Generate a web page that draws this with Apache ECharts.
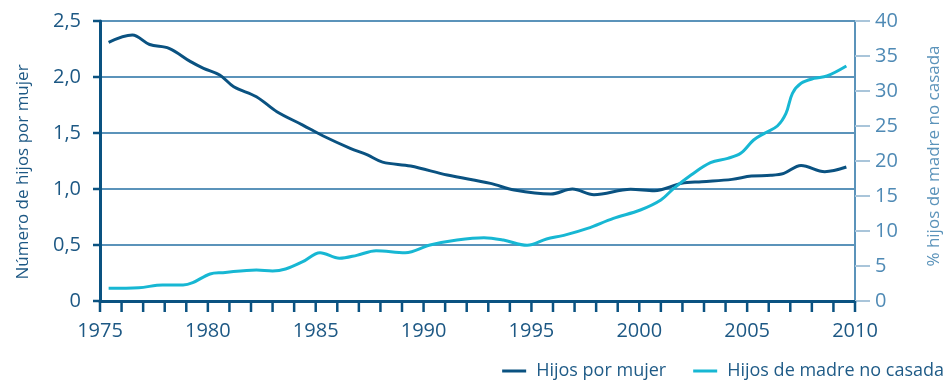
<!DOCTYPE html>
<html>
<head>
<meta charset="utf-8">
<script src="https://cdn.jsdelivr.net/npm/echarts@6/dist/echarts.min.js"></script>
<style>
  html, body { margin: 0; padding: 0; background: #ffffff; }
  #chart { width: 946px; height: 382px; }
</style>
</head>
<body>
<div id="chart"></div>
<script>
// Children per woman (left axis)
const fertilityYears = [1975.4, 1976.5, 1977.3, 1978.2, 1979.2, 1979.8, 1980.55, 1981.2, 1982.25, 1983.2,
  1984.4, 1985.35, 1986.6, 1987.4, 1988.1, 1989.4, 1991.1, 1993.1, 1994.2, 1995.9,
  1996.9, 1997.9, 1999.6, 2000.7, 2001.95, 2002.9, 2004.3, 2005.2, 2006.1, 2006.7,
  2007.5, 2008.6, 2009.6];
const fertility = [2.31, 2.375, 2.29, 2.256, 2.137, 2.078, 2.018, 1.913, 1.824, 1.69,
  1.571, 1.473, 1.363, 1.304, 1.24, 1.205, 1.125, 1.05, 0.991, 0.955,
  1.0, 0.949, 0.997, 0.985, 1.05, 1.065, 1.086, 1.116, 1.122, 1.14,
  1.21, 1.155, 1.196];

// Share of births to unmarried mothers, % (right axis)
const unmarriedYears = [1975.4, 1976.8, 1977.9, 1978.85, 1979.3, 1980.1, 1980.7, 1982.25, 1983.0, 1983.6,
  1984.4, 1985.2, 1986.1, 1986.9, 1987.8, 1989.15, 1990.3, 1991.55, 1992.8, 1993.7,
  1994.8, 1995.7, 1996.5, 1997.6, 1998.8, 2000.05, 2001.0, 2001.6, 2002.4, 2003.3,
  2004.1, 2004.7, 2005.3, 2005.8, 2006.4, 2006.8, 2007.1, 2007.5, 2008.1, 2008.7, 2009.6];
const unmarried = [1.81, 1.9, 2.29, 2.29, 2.62, 3.86, 4.05, 4.43, 4.29, 4.57,
  5.62, 6.9, 6.1, 6.52, 7.19, 6.9, 8.0, 8.71, 9.05, 8.71,
  7.95, 8.86, 9.38, 10.38, 11.81, 13.0, 14.43, 16.1, 18.0, 19.76,
  20.38, 21.1, 23.0, 23.95, 25.0, 26.8, 29.67, 31.1, 31.8, 32.14, 33.57];

// Yearly tick marks on the time axis and tick values on the left axis
const yearTicks = [1975, 1976, 1977, 1978, 1979, 1980, 1981, 1982, 1983, 1984, 1985, 1986,
  1987, 1988, 1989, 1990, 1991, 1992, 1993, 1994, 1995, 1996, 1997, 1998,
  1999, 2000, 2001, 2002, 2003, 2004, 2005, 2006, 2007, 2008, 2009, 2010];
const leftTicks = [0, 0.5, 1.0, 1.5, 2.0, 2.5];

const seriesNames = ['Hijos por mujer', 'Hijos de madre no casada'];
const leftAxisTitle = 'Número de hijos por mujer';
const rightAxisTitle = '% hijos de madre no casada';

const DARK = '#0a5281';
const CYAN = '#17b7d3';
const GRID = '#5b93ba';
const FONT = 'Open Sans';
const X_MIN = 1975;

const zip = (xs, ys) => xs.map((x, i) => [x, ys[i]]);

// Tick strokes as small rectangles anchored on the axes through the library's coordinate mapping
function tickMarks(data, size, offset) {
  return {
    type: 'scatter',
    xAxisIndex: 0,
    yAxisIndex: 0,
    silent: true,
    clip: false,
    z: 5,
    symbol: 'rect',
    symbolSize: size,
    symbolOffset: offset,
    itemStyle: { color: DARK, opacity: 1 },
    emphasis: { disabled: true },
    data: data
  };
}

const chart = echarts.init(document.getElementById('chart'), null, { renderer: 'canvas' });
chart.setOption({
  animation: false,
  textStyle: { fontFamily: FONT },
  grid: { left: 100, right: 91, top: 21, bottom: 81, containLabel: false, outerBoundsMode: 'none' },
  legend: {
    data: seriesNames,
    right: -3,
    top: 357,
    icon: 'rect',
    itemWidth: 24,
    itemHeight: 3,
    itemGap: 27,
    textStyle: { fontFamily: FONT, fontSize: 18, color: '#1f5b87', padding: [0, 0, 0, 5] }
  },
  xAxis: {
    type: 'value',
    position: 'bottom',
    min: X_MIN,
    max: 2010,
    interval: 1,
    axisLine: { show: true, onZero: false, lineStyle: { color: DARK, width: 3 } },
    axisTick: { show: false },
    axisLabel: {
      margin: 20,
      fontSize: 20,
      color: '#1d5884',
      fontFamily: FONT,
      formatter: v => (v % 5 === 0 ? String(v) : '')
    },
    splitLine: { show: false }
  },
  yAxis: [
    {
      type: 'value',
      min: 0,
      max: 2.5,
      interval: 0.5,
      position: 'left',
      name: leftAxisTitle,
      nameLocation: 'middle',
      nameRotate: 90,
      nameGap: 68,
      nameTextStyle: { fontFamily: FONT, fontSize: 17, color: '#1d5884', padding: [0, 22, 0, 0] },
      axisLine: { show: true, onZero: false, lineStyle: { color: DARK, width: 3 } },
      axisTick: { show: false },
      axisLabel: {
        margin: 19,
        fontSize: 20,
        color: '#1d5884',
        fontFamily: FONT,
        formatter: v => (v === 0 ? '0' : v.toFixed(1).replace('.', ','))
      },
      splitLine: { show: true, showMinLine: false, lineStyle: { color: GRID, width: 2 } }
    },
    {
      type: 'value',
      min: 0,
      max: 40,
      interval: 5,
      position: 'right',
      name: rightAxisTitle,
      nameLocation: 'middle',
      nameRotate: 90,
      nameGap: 71,
      nameTextStyle: { fontFamily: FONT, fontSize: 17, color: '#5b93ba', padding: [0, 0, 0, 10] },
      axisLine: { show: true, onZero: false, lineStyle: { color: GRID, width: 2 } },
      axisTick: { show: true, inside: false, length: 15, lineStyle: { color: '#a9c5da', width: 2 } },
      axisLabel: { margin: 20, fontSize: 20, color: '#4f8ab5', fontFamily: FONT },
      splitLine: { show: false }
    }
  ],
  series: [
    {
      name: seriesNames[0],
      type: 'line',
      yAxisIndex: 0,
      data: zip(fertilityYears, fertility),
      symbol: 'none',
      smooth: 0.35,
      itemStyle: { color: DARK },
      lineStyle: { color: DARK, width: 3 },
      z: 3
    },
    {
      name: seriesNames[1],
      type: 'line',
      yAxisIndex: 1,
      data: zip(unmarriedYears, unmarried),
      symbol: 'none',
      smooth: 0.35,
      itemStyle: { color: CYAN },
      lineStyle: { color: CYAN, width: 3 },
      z: 4
    },
    tickMarks(yearTicks.map(y => [y, 0]), [2.5, 11], [0, '50%']),
    tickMarks(leftTicks.map(v => [X_MIN, v]), [7, 2.5], ['-50%', 0])
  ]
});
</script>
</body>
</html>
